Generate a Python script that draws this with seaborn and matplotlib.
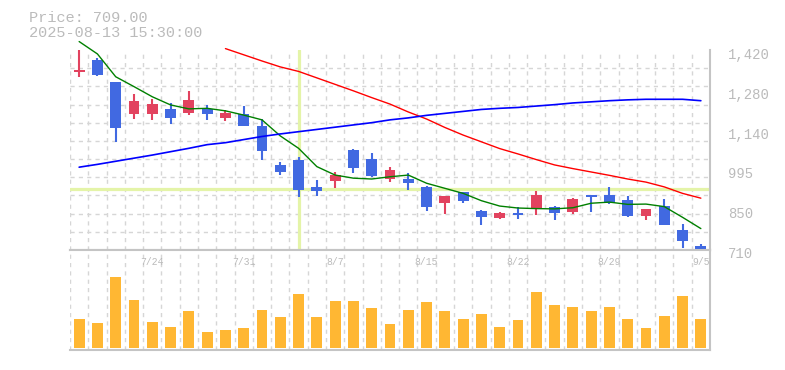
import pandas as pd
import matplotlib.pyplot as plt
import matplotlib.transforms as mtransforms
import seaborn as sns

# daily bars, 7/17 .. 9/5
dates = ['7/17', '7/18', '7/22', '7/23', '7/24', '7/25', '7/28', '7/29', '7/30', '7/31',
         '8/1', '8/4', '8/5', '8/6', '8/7', '8/8', '8/12', '8/13', '8/14', '8/15',
         '8/18', '8/19', '8/20', '8/21', '8/22', '8/25', '8/26', '8/27', '8/28', '8/29',
         '9/1', '9/2', '9/3', '9/4', '9/5']
opens = [1343, 1384, 1308, 1193, 1193, 1211, 1196, 1211, 1179, 1193,
         1150, 1012, 1030, 934, 956, 1065, 1033, 963, 962, 934,
         878, 916, 848, 825, 842, 857, 863, 845, 905, 906,
         888, 832, 866, 781, 724]
highs = [1420, 1390, 1308, 1264, 1246, 1233, 1274, 1225, 1207, 1221,
         1175, 1022, 1040, 958, 987, 1068, 1054, 1005, 983, 937,
         902, 916, 852, 845, 863, 920, 866, 895, 905, 935,
         903, 856, 891, 802, 731]
lows = [1325, 1328, 1095, 1175, 1172, 1157, 1189, 1172, 1168, 1150,
        1030, 977, 899, 903, 931, 984, 969, 951, 923, 850,
        839, 878, 800, 821, 821, 835, 818, 839, 845, 874,
        828, 816, 800, 718, 709]
closes = [1349, 1331, 1144, 1239, 1228, 1179, 1242, 1193, 1196, 1150,
          1063, 988, 924, 921, 976, 1002, 973, 994, 948, 864,
          902, 885, 828, 841, 835, 906, 842, 891, 899, 878,
          831, 856, 800, 743, 709]
volume_k = [87, 75, 213, 144, 78, 63, 111, 48, 54, 60,
            114, 93, 162, 93, 141, 141, 120, 72, 114, 138,
            111, 87, 102, 63, 84, 168, 129, 123, 111, 123,
            87, 60, 96, 156, 87]

# moving averages
ma_short = [1450, 1406, 1325, 1290, 1254, 1225, 1211, 1213, 1204, 1189,
            1172, 1115, 1071, 1006, 976, 965, 962, 970, 976, 947,
            929, 911, 885, 866, 859, 857, 856, 860, 876, 880,
            872, 873, 864, 826, 786]
ma_mid_start = 8
ma_mid = [1425, 1403, 1381, 1360, 1344, 1321, 1298, 1275, 1251, 1228,
          1200, 1175, 1145, 1118, 1094, 1070, 1051, 1031, 1012, 999,
          987, 975, 962, 951, 934, 911, 894]
ma_long = [1004, 1014, 1025, 1036, 1047, 1059, 1071, 1084, 1091, 1102,
           1113, 1122, 1130, 1138, 1146, 1154, 1162, 1172, 1179, 1188,
           1195, 1202, 1209, 1213, 1216, 1221, 1226, 1232, 1236, 1240,
           1243, 1245, 1245, 1245, 1240]

tick_every = 5
price_ticks = [710, 852, 994, 1136, 1278, 1420]
price_labels = ['710', '850', '995', '1,140', '1,280', '1,420']
cross_idx = 12
cross_price = 925
header = ['Price: 709.00', '2025-08-13 15:30:00']

UP = '#e2435f'
DOWN = '#4169e1'
GRID = '#d6d6d6'
TEXT = '#bbbbbb'
FRAME = '#c4c4c4'
CROSS = '#e4f4a8'


def main():
    sns.set_style('white')
    plt.rcParams['font.family'] = ['Liberation Mono', 'DejaVu Sans Mono']

    n = len(dates)
    idx = list(range(n))
    df = pd.DataFrame({'idx': idx, 'open': opens, 'high': highs, 'low': lows,
                       'close': closes, 'volume': volume_k,
                       'ma_short': ma_short, 'ma_long': ma_long})
    mid_df = pd.DataFrame({'idx': idx[ma_mid_start:], 'ma_mid': ma_mid})

    fig = plt.figure(figsize=(7.85, 3.7), dpi=100)
    ax = fig.add_axes([70 / 785, 120 / 370, 640 / 785, 200 / 370])
    axv = fig.add_axes([70 / 785, 20 / 370, 640 / 785, 100 / 370])

    # ---- price panel ----
    ax.axvline(cross_idx, color=CROSS, lw=2.3, zorder=1)
    ax.axhline(cross_price, color=CROSS, lw=2.3, zorder=1)

    up = df['close'] >= df['open']
    colors = [UP if u else DOWN for u in up]
    ax.vlines(df['idx'], df['low'], df['high'], colors=colors, lw=1.5, zorder=3)
    ax.bar(df['idx'], (df['close'] - df['open']).abs(),
           bottom=df[['open', 'close']].min(axis=1),
           width=0.6, color=colors, linewidth=0, zorder=3)

    sns.lineplot(data=df, x='idx', y='ma_short', color='#008000', lw=1, ax=ax, zorder=4)
    sns.lineplot(data=mid_df, x='idx', y='ma_mid', color='#ff0000', lw=1, ax=ax, zorder=4)
    sns.lineplot(data=df, x='idx', y='ma_long', color='#0000ff', lw=1.2, ax=ax, zorder=4)
    for line in ax.lines[2:]:
        line.set_clip_on(False)

    ax.set_xlim(-0.5, n - 0.5)
    ax.set_ylim(710, 1420)
    ax.set_xticks([i - 0.5 for i in range(n + 1)])
    ax.set_xticklabels([])
    ax.set_yticks(price_ticks)
    ax.set_yticklabels(price_labels)
    ax.set_yticks([710 + i * 710 / 11 for i in range(12)], minor=True)
    ax.yaxis.tick_right()
    ax.tick_params(axis='y', which='both', length=0, pad=7, labelsize=10, labelcolor=TEXT)
    ax.tick_params(axis='x', length=0)
    shift = mtransforms.ScaledTranslation(8 / 100, -3 / 100, fig.dpi_scale_trans)
    for lab in ax.get_yticklabels():
        lab.set_transform(lab.get_transform() + shift)
    ax.grid(axis='x', which='major', color=GRID, ls=(0, (3, 3)), lw=1)
    ax.grid(axis='y', which='minor', color=GRID, ls=(0, (3, 3)), lw=1)
    ax.grid(axis='y', which='major', visible=False)
    ax.set_axisbelow(True)
    ax.set_xlabel('')
    ax.set_ylabel('')
    for side in ['left', 'top']:
        ax.spines[side].set_visible(False)
    for side in ['right', 'bottom']:
        ax.spines[side].set_color(FRAME)
        ax.spines[side].set_linewidth(1.5)

    # ---- volume panel ----
    sns.barplot(data=df, x='idx', y='volume', color='#ffb733', saturation=1,
                width=0.6, linewidth=0, ax=axv)
    axv.set_xlim(-0.5, n - 0.5)
    axv.set_ylim(-6, 294)
    axv.set_xticks([i - 0.5 for i in range(n + 1)])
    axv.set_xticklabels([])
    axv.set_yticks([])
    axv.tick_params(axis='x', length=0)
    axv.grid(axis='x', color=GRID, ls=(0, (3, 3)), lw=1)
    axv.set_axisbelow(True)
    axv.set_xlabel('')
    axv.set_ylabel('')
    axv.spines['left'].set_visible(False)
    for side in ['right', 'top', 'bottom']:
        axv.spines[side].set_color(FRAME)
        axv.spines[side].set_linewidth(1.5)

    trans = mtransforms.blended_transform_factory(axv.transData, axv.transAxes)
    for i in range(n - 1, -1, -tick_every):
        axv.text(i, 0.88, dates[i], transform=trans, ha='center', va='center',
                 fontsize=7, color=TEXT)

    # header
    fig.text(29 / 785, 1 - 17.5 / 370, header[0], fontsize=11, color=TEXT, va='center')
    fig.text(29 / 785, 1 - 33 / 370, header[1], fontsize=11, color=TEXT, va='center')

    fig.savefig('out.png', dpi=100)
    plt.close(fig)


if __name__ == '__main__':
    main()
